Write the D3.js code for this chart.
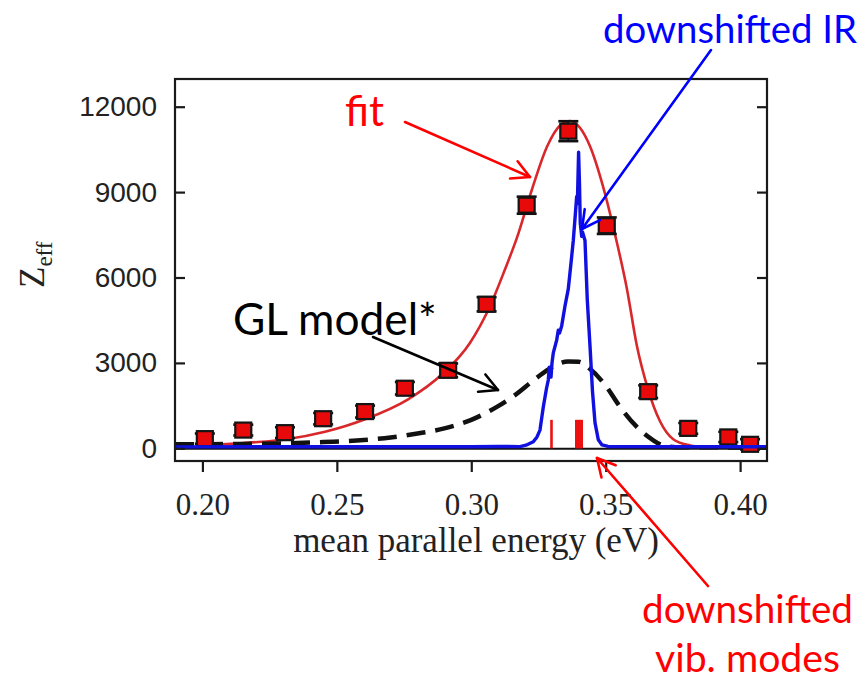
<!DOCTYPE html>
<html>
<head>
<meta charset="utf-8">
<script src="https://cdn.jsdelivr.net/npm/d3@7/dist/d3.min.js"></script>
<style>
  html, body { margin: 0; padding: 0; background: #fff; }
  svg { display: block; }
</style>
</head>
<body>
<svg id="chart" width="863" height="679"></svg>
<script>
// ---- measured cross sections: Zeff vs mean parallel energy (eV) ----
const pointEnergy = [0.2009, 0.2152, 0.2307, 0.2449, 0.2605, 0.2753, 0.2914, 0.3057,
                     0.3206, 0.3361, 0.3504, 0.3658, 0.3807, 0.3956, 0.4037];
const pointZeff   = [340, 640, 550, 1040, 1290, 2110, 2740, 5060,
                     8540, 11140, 7820, 1990, 700, 400, 140];
const pointError  = [180, 190, 190, 200, 210, 220, 240, 250,
                     300, 350, 290, 220, 190, 180, 180];

// ---- fitted curve ----
const fitEnergy = [0.2050, 0.2177, 0.2307, 0.2456, 0.2605, 0.2765, 0.2891, 0.2995, 0.3070,
                   0.3126, 0.3170, 0.3226, 0.3282, 0.3331, 0.3368, 0.3405, 0.3442, 0.3490,
                   0.3535, 0.3579, 0.3616, 0.3655, 0.3702, 0.3750, 0.3814, 0.3870];
const fitZeff   = [120, 200, 310, 580, 1020, 1720, 2600, 3700, 5000,
                   6300, 7400, 9100, 10600, 11350, 11500, 11250, 10600, 9200,
                   7500, 5600, 3600, 2150, 950, 330, 100, 30];

// ---- GL model (dashed) ----
const glEnergy = [0.1898, 0.2100, 0.2300, 0.2450, 0.2600, 0.2700, 0.2800, 0.2900, 0.3000,
                  0.3100, 0.3160, 0.3240, 0.3300, 0.3360, 0.3400, 0.3440, 0.3500, 0.3550,
                  0.3616, 0.3676, 0.3710, 0.3760, 0.4100];
const glZeff   = [140, 150, 170, 220, 290, 380, 520, 700, 1000,
                  1480, 1850, 2450, 2850, 3050, 3040, 2800, 2200, 1500,
                  750, 290, 110, 40, 30];

// ---- downshifted IR spectrum (blue) ----
const irEnergy = [0.1898, 0.2400, 0.3000, 0.3100, 0.31812, 0.32036, 0.32307, 0.32445,
                  0.32556, 0.32679, 0.32798, 0.32865, 0.32902, 0.32928, 0.32966, 0.33003,
                  0.33051, 0.33177, 0.33237, 0.33282, 0.33363, 0.33486, 0.33609, 0.33709,
                  0.33795, 0.33869, 0.33921, 0.33947, 0.33992, 0.34025, 0.34055, 0.34107,
                  0.34137, 0.34230, 0.34316, 0.34416, 0.34509, 0.34602, 0.34725, 0.34863,
                  0.35086, 0.4100];
const irZeff   = [50, 55, 55, 65, 60, 110, 230, 400,
                  640, 1450, 2100, 2400, 2850, 2750, 2500, 3000,
                  3350, 3800, 4150, 4050, 4300, 5000, 5600, 6500,
                  7300, 8200, 8850, 8600, 10400, 9300, 7900, 7450,
                  7600, 7300, 5200, 3600, 2000, 900, 300, 120,
                  65, 55];

// ---- downshifted vibrational modes (sticks) ----
const modeEnergy = [0.32984, 0.33907, 0.33974, 0.34041, 0.34108];
const modeHeight = [1000, 1000, 1000, 1000, 1000];

// ---- axis ticks ----
const xTicks = [0.20, 0.25, 0.30, 0.35, 0.40];
const yTicks = [0, 3000, 6000, 9000, 12000];

const svg = d3.select("#chart");
const frame = { left: 175, right: 767, top: 79, bottom: 461 };

const x = d3.scaleLinear().domain([0.1898, 0.4100]).range([frame.left, frame.right]);
const y = d3.scaleLinear().domain([-446, 12973]).range([frame.bottom, frame.top]);

const toPts = (ex, zy) => ex.map((e, i) => [e, zy[i]]);

const clipId = "plotClip";
svg.append("defs").append("clipPath").attr("id", clipId)
  .append("rect")
  .attr("x", frame.left).attr("y", frame.top)
  .attr("width", frame.right - frame.left).attr("height", frame.bottom - frame.top);

const plot = svg.append("g").attr("clip-path", `url(#${clipId})`);

// zero line
plot.append("line")
  .attr("x1", frame.left).attr("x2", frame.right)
  .attr("y1", y(0) + 0.5).attr("y2", y(0) + 0.5)
  .attr("stroke", "#111").attr("stroke-width", 2);

const smooth = d3.line().x(d => x(d[0])).y(d => y(d[1])).curve(d3.curveMonotoneX);
const sharp  = d3.line().x(d => x(d[0])).y(d => y(d[1]));

// fit
plot.append("path")
  .datum(toPts(fitEnergy, fitZeff))
  .attr("d", smooth)
  .attr("fill", "none")
  .attr("stroke", "#d8282c")
  .attr("stroke-width", 2.6);

// GL model
plot.append("path")
  .datum(toPts(glEnergy, glZeff))
  .attr("d", smooth)
  .attr("fill", "none")
  .attr("stroke", "#111")
  .attr("stroke-width", 4.5)
  .attr("stroke-dasharray", "19,10");

// error bars and markers
const pts = plot.append("g");
const pData = pointEnergy.map((e, i) => ({ e, z: pointZeff[i], err: pointError[i] }));
pts.selectAll("line.err").data(pData).join("line")
  .attr("class", "err")
  .attr("x1", d => x(d.e)).attr("x2", d => x(d.e))
  .attr("y1", d => y(d.z - d.err)).attr("y2", d => y(d.z + d.err))
  .attr("stroke", "#111").attr("stroke-width", 2);
["lo", "hi"].forEach(k => {
  pts.selectAll(`line.cap-${k}`).data(pData).join("line")
    .attr("class", `cap-${k}`)
    .attr("x1", d => x(d.e) - 10).attr("x2", d => x(d.e) + 10)
    .attr("y1", d => y(k === "lo" ? d.z - d.err : d.z + d.err))
    .attr("y2", d => y(k === "lo" ? d.z - d.err : d.z + d.err))
    .attr("stroke", "#111").attr("stroke-width", 2.6);
});
pts.selectAll("rect").data(pData).join("rect")
  .attr("x", d => x(d.e) - 8).attr("y", d => y(d.z) - 7.5)
  .attr("width", 16).attr("height", 15)
  .attr("fill", "#e80a0a").attr("stroke", "#151515").attr("stroke-width", 2.2);

// IR spectrum
plot.append("path")
  .datum(toPts(irEnergy, irZeff))
  .attr("d", sharp)
  .attr("fill", "none")
  .attr("stroke", "#1010e0")
  .attr("stroke-width", 3.4)
  .attr("stroke-linejoin", "round");

// vibrational mode sticks
plot.selectAll("line.mode").data(modeEnergy).join("line")
  .attr("class", "mode")
  .attr("x1", d => x(d)).attr("x2", d => x(d))
  .attr("y1", y(0)).attr("y2", (d, i) => y(modeHeight[i]))
  .attr("stroke", "#ee1111").attr("stroke-width", 2.6);

// frame
svg.append("rect")
  .attr("x", frame.left).attr("y", frame.top)
  .attr("width", frame.right - frame.left).attr("height", frame.bottom - frame.top)
  .attr("fill", "none").attr("stroke", "#1a1a1a").attr("stroke-width", 2.2);

// axes
const axL = svg.append("g").attr("transform", `translate(${frame.left},0)`)
  .call(d3.axisLeft(y).tickValues(yTicks).tickSizeInner(-10).tickSizeOuter(0)
        .tickPadding(18).tickFormat(d3.format("d")));
const axR = svg.append("g").attr("transform", `translate(${frame.right},0)`)
  .call(d3.axisRight(y).tickValues(yTicks).tickSizeInner(-10).tickSizeOuter(0).tickFormat(""));
const axB = svg.append("g").attr("transform", `translate(0,${frame.bottom})`)
  .call(d3.axisBottom(x).tickValues(xTicks).tickSizeInner(11).tickSizeOuter(0)
        .tickPadding(21).tickFormat(d3.format(".2f")));
[axL, axR, axB].forEach(a => {
  a.select(".domain").remove();
  a.selectAll(".tick line").attr("stroke", "#1a1a1a").attr("stroke-width", 2.2);
});
axL.selectAll("text")
  .attr("font-family", "'Liberation Sans', Arial, sans-serif")
  .attr("font-size", 28).attr("fill", "#222");
axB.selectAll("text")
  .attr("font-family", "'Liberation Serif', 'Times New Roman', serif")
  .attr("font-size", 31).attr("fill", "#222");

// axis titles
svg.append("text")
  .attr("x", 476).attr("y", 552)
  .attr("text-anchor", "middle")
  .attr("font-family", "'Liberation Serif', 'Times New Roman', serif")
  .attr("font-size", 35).attr("fill", "#222")
  .text("mean parallel energy (eV)");

const yTitle = svg.append("text")
  .attr("transform", "translate(44,288) rotate(-90)")
  .attr("font-family", "'Liberation Serif', 'Times New Roman', serif")
  .attr("fill", "#222");
yTitle.append("tspan").attr("font-size", 35).text("Z");
yTitle.append("tspan").attr("font-size", 23).attr("dy", 8).text("eff");

// annotations
const notes = [
  { text: "fit",            x: 345,   y: 126, width: 39,  color: "#ff0000", anchor: "start" },
  { text: "downshifted IR", x: 603,   y: 43,  width: 254, color: "#0000ff", anchor: "start" },
  { text: "GL model*",      x: 233,   y: 335, width: 204, color: "#000000", anchor: "start" },
  { text: "downshifted",    x: 747.5, y: 623, width: 211, color: "#ff0000", anchor: "middle" },
  { text: "vib. modes",     x: 747.5, y: 672, width: 185, color: "#ff0000", anchor: "middle" }
];
notes.forEach(n => {
  const t = svg.append("text")
    .attr("x", n.x).attr("y", n.y)
    .attr("text-anchor", n.anchor)
    .attr("font-family", "Lato, 'Open Sans', sans-serif")
    .attr("font-size", 40)
    .attr("fill", n.color)
    .text(n.text);
  const w = t.node().getComputedTextLength();
  t.attr("font-size", 40 * n.width / w);
});

// arrows
const arrows = [
  { from: [405, 122], to: [530, 177], color: "#ff0000" },
  { from: [711, 50],  to: [582, 229], color: "#0000ff" },
  { from: [373, 337], to: [498, 390], color: "#000000" },
  { from: [708, 586], to: [597, 458], color: "#ff0000" }
];
const headLen = 20, headAng = 28 * Math.PI / 180;
arrows.forEach(a => {
  const g = svg.append("g")
    .attr("stroke", a.color).attr("stroke-width", 2.6)
    .attr("fill", "none").attr("stroke-linecap", "round").attr("stroke-linejoin", "round");
  g.append("line")
    .attr("x1", a.from[0]).attr("y1", a.from[1])
    .attr("x2", a.to[0]).attr("y2", a.to[1]);
  const back = Math.atan2(a.from[1] - a.to[1], a.from[0] - a.to[0]);
  const p1 = [a.to[0] + headLen * Math.cos(back + headAng), a.to[1] + headLen * Math.sin(back + headAng)];
  const p2 = [a.to[0] + headLen * Math.cos(back - headAng), a.to[1] + headLen * Math.sin(back - headAng)];
  g.append("path").attr("d", `M${p1}L${a.to}L${p2}`);
});
</script>
</body>
</html>
